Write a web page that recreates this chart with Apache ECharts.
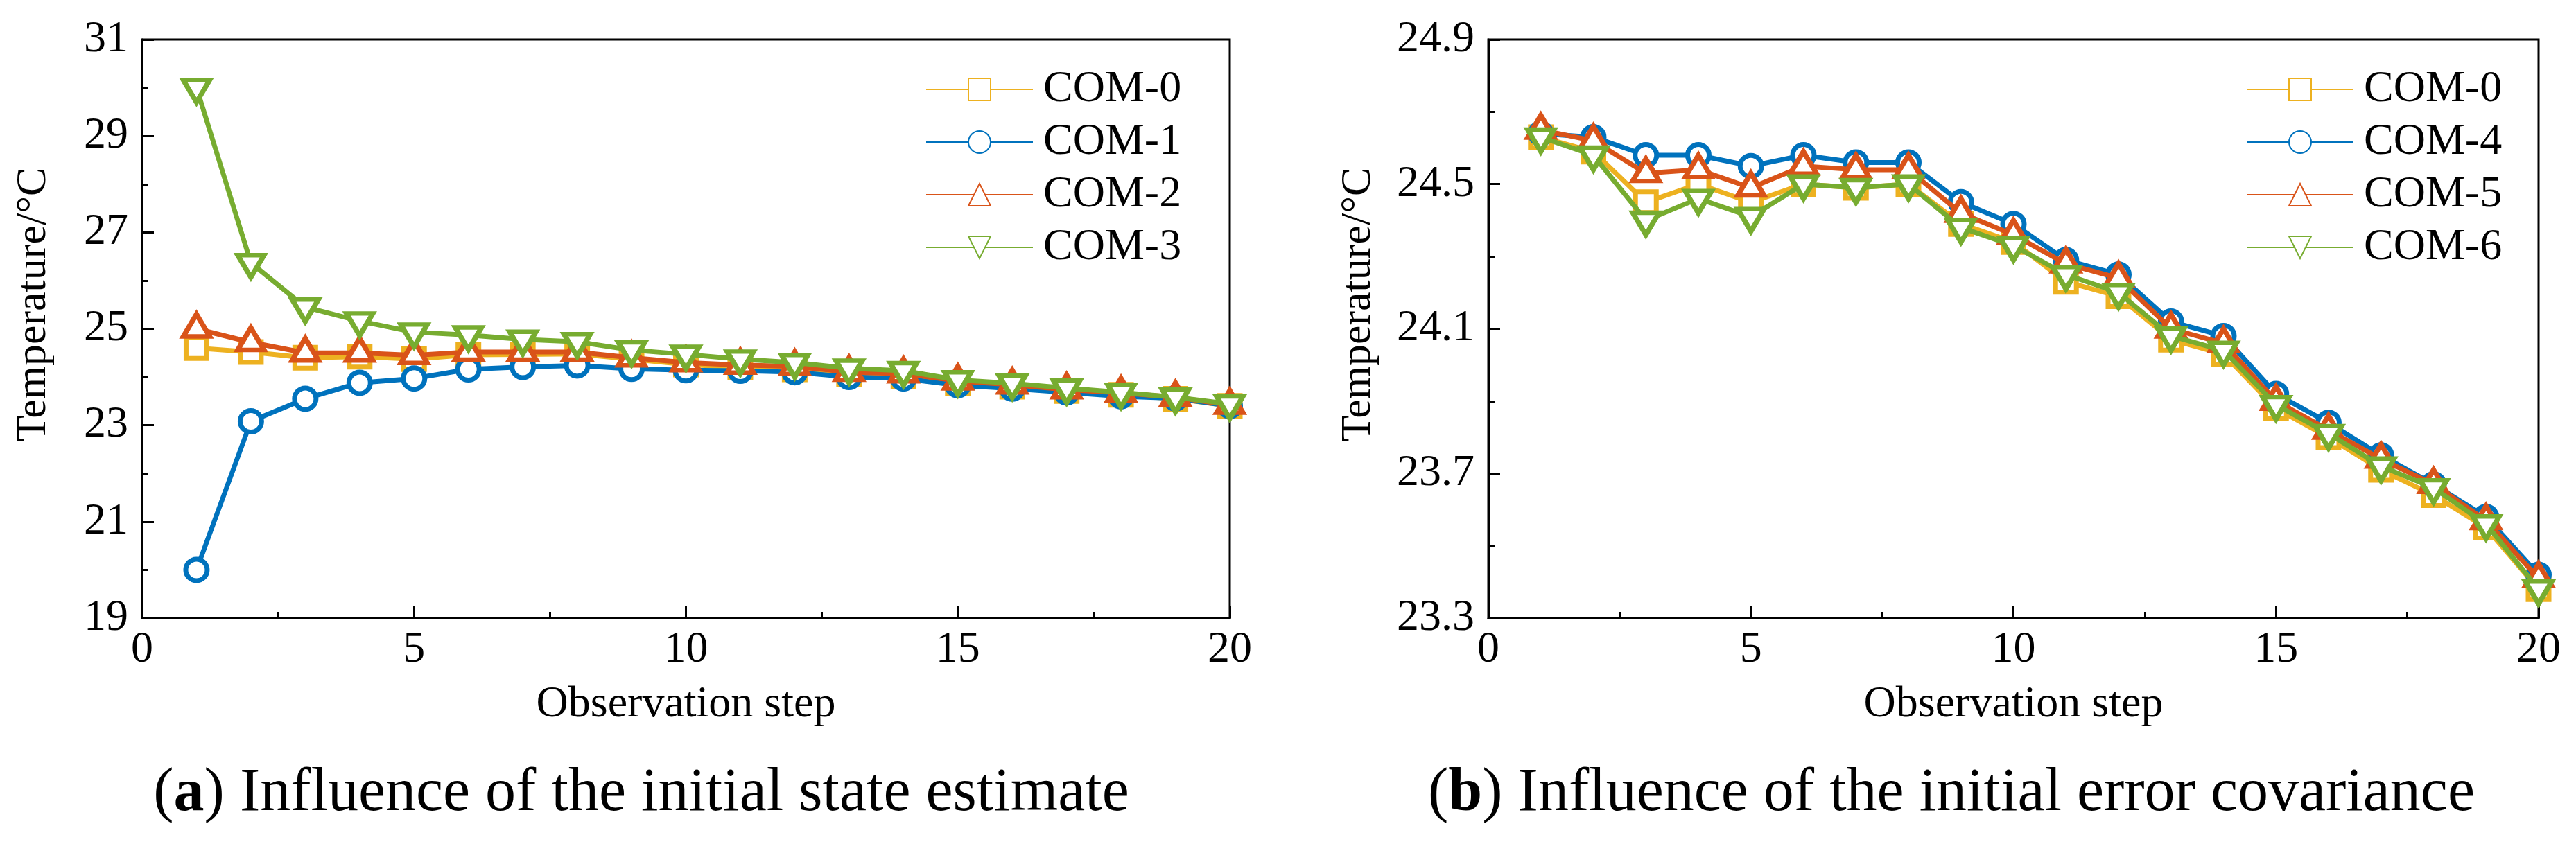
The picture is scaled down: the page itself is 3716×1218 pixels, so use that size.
<!DOCTYPE html>
<html>
<head>
<meta charset="utf-8">
<script src="https://cdn.jsdelivr.net/npm/echarts@6/dist/echarts.min.js"></script>
<style>
html,body{margin:0;padding:0;background:#fff;}
#chart{width:3716px;height:1218px;}
</style>
</head>
<body>
<div id="chart"></div>
<script>
// ---------- data ----------
const steps = [1,2,3,4,5,6,7,8,9,10,11,12,13,14,15,16,17,18,19,20];

// (a) influence of the initial state estimate
const namesA = ['COM-0','COM-1','COM-2','COM-3'];
const com0a = [24.60,24.52,24.40,24.42,24.37,24.46,24.47,24.48,24.37,24.26,24.20,24.16,24.05,24.02,23.87,23.80,23.71,23.63,23.55,23.40];
const com1a = [20.00,23.08,23.55,23.88,23.97,24.16,24.21,24.24,24.17,24.14,24.13,24.10,24.00,23.97,23.83,23.76,23.68,23.60,23.56,23.40];
const com2a = [25.00,24.72,24.50,24.50,24.45,24.52,24.52,24.52,24.40,24.30,24.25,24.22,24.10,24.07,23.92,23.84,23.74,23.67,23.58,23.42];
const com3a = [30.00,26.37,25.45,25.16,24.93,24.87,24.78,24.73,24.56,24.47,24.37,24.30,24.18,24.13,23.94,23.87,23.77,23.68,23.58,23.44];

// (b) influence of the initial error covariance
const namesB = ['COM-0','COM-4','COM-5','COM-6'];
const com0b = [24.63,24.59,24.45,24.50,24.45,24.50,24.49,24.50,24.39,24.34,24.23,24.19,24.07,24.03,23.88,23.80,23.71,23.64,23.55,23.38];
const com4b = [24.64,24.63,24.58,24.58,24.55,24.58,24.56,24.56,24.45,24.39,24.29,24.25,24.12,24.08,23.92,23.84,23.75,23.67,23.58,23.42];
const com5b = [24.65,24.62,24.53,24.54,24.49,24.55,24.54,24.54,24.42,24.36,24.28,24.24,24.10,24.06,23.90,23.82,23.74,23.67,23.57,23.41];
const com6b = [24.63,24.58,24.40,24.46,24.41,24.50,24.49,24.50,24.38,24.33,24.25,24.20,24.08,24.04,23.89,23.81,23.72,23.66,23.56,23.38];

// tick labels
const xTicks  = [0,5,10,15,20];
const yTicksA = [19,21,23,25,27,29,31];
const yTicksB = [23.3,23.7,24.1,24.5,24.9];

const captionA = 'Influence of the initial state estimate';
const captionB = 'Influence of the initial error covariance';

// ---------- styling ----------
const FONT = '"Liberation Serif", "Times New Roman", serif';
const colors = ['#EDB120','#0072BD','#D95319','#77AC30'];
const markers = [
  {symbol:'rect', size:30, rotate:0, offset:[0,0]},
  {symbol:'circle', size:31, rotate:0, offset:[0,0]},
  {symbol:'triangle', size:[38,32], rotate:0, offset:[0,-5]},
  {symbol:'triangle', size:[38,32], rotate:180, offset:[0,5]}
];

function pairs(vals){ return steps.map((s,i)=>[s, vals[i]]); }
function step(t){ return Math.round((t[1]-t[0])*1000)/1000; }

function makeSeries(name, vals, k, gi){
  const m = markers[k];
  return {
    name: name, type:'line', xAxisIndex: gi, yAxisIndex: gi,
    data: pairs(vals),
    symbol: m.symbol, symbolSize: m.size, symbolRotate: m.rotate, symbolOffset: m.offset,
    showAllSymbol: true,
    lineStyle: {color: colors[k], width: 7},
    itemStyle: {color: '#fff', borderColor: colors[k], borderWidth: 7, borderJoin: 'miter'},
    emphasis: {disabled: true},
    z: 2 + k
  };
}

const txt = (size, extra) => Object.assign({fontFamily: FONT, fontSize: size, fontWeight:'normal', fontStyle:'normal', color:'#000'}, extra || {});

function xAxis(gi){
  return {
    gridIndex: gi, type:'value', min: xTicks[0], max: xTicks[xTicks.length-1], interval: step(xTicks),
    name: 'Observation step', nameLocation:'middle', nameGap: 93,
    nameTextStyle: txt(64),
    axisLine: {show:true, onZero:false, lineStyle:{color:'#000', width:3}},
    axisTick: {show:true, inside:true, length:17, lineStyle:{color:'#000', width:3}},
    minorTick: {show:true, splitNumber:2, length:9, lineStyle:{color:'#000', width:3}},
    splitLine: {show:false},
    axisLabel: txt(64, {margin: 14})
  };
}

function yAxis(gi, ticks, gap, dec){
  return {
    gridIndex: gi, type:'value', min: ticks[0], max: ticks[ticks.length-1], interval: step(ticks),
    name: 'Temperature/°C', nameLocation:'middle', nameGap: gap, nameRotate: 90,
    nameTextStyle: txt(62, {padding:[0,0,0,70]}),
    axisLine: {show:true, onZero:false, lineStyle:{color:'#000', width:3}},
    axisTick: {show:true, inside:true, length:17, lineStyle:{color:'#000', width:3}},
    minorTick: {show:true, splitNumber:2, length:9, lineStyle:{color:'#000', width:3}},
    splitLine: {show:false},
    axisLabel: txt(64, {margin: 20, formatter: v => Number(v).toFixed(dec)})
  };
}

function legend(names, left){
  return {
    data: names, orient:'vertical', left: left, top: 97, padding: 0,
    itemWidth: 154, itemHeight: 40, itemGap: 12,
    selectedMode: false,
    textStyle: txt(64, {lineHeight: 64, padding:[0,0,0,10]})
  };
}

const chart = echarts.init(document.getElementById('chart'), null, {renderer:'canvas'});
chart.setOption({
  backgroundColor:'#fff',
  animation:false,
  textStyle: {fontFamily: FONT},
  grid: [
    {left:205, top:57, width:1569, height:835, show:true, borderColor:'#000', borderWidth:3, containLabel:false},
    {left:2147, top:57, width:1515, height:835, show:true, borderColor:'#000', borderWidth:3, containLabel:false}
  ],
  xAxis: [xAxis(0), xAxis(1)],
  yAxis: [yAxis(0, yTicksA, 125, 0), yAxis(1, yTicksB, 156, 1)],
  legend: [legend(namesA, 1335), legend(namesB, 3240)],
  series: [
    makeSeries(namesA[0], com0a, 0, 0),
    makeSeries(namesA[1], com1a, 1, 0),
    makeSeries(namesA[2], com2a, 2, 0),
    makeSeries(namesA[3], com3a, 3, 0),
    makeSeries(namesB[0], com0b, 0, 1),
    makeSeries(namesB[1], com4b, 1, 1),
    makeSeries(namesB[2], com5b, 2, 1),
    makeSeries(namesB[3], com6b, 3, 1)
  ],
  graphic: [
    {type:'text', x: 925, y: 1146, style:{
      text: '({b|a}) ' + captionA, fill:'#000', fontFamily: FONT, fontSize: 88,
      align:'center', verticalAlign:'middle',
      rich:{b:{fontWeight:'bold', fontFamily: FONT, fontSize: 88, fill:'#000'}}
    }},
    {type:'text', x: 2815, y: 1146, style:{
      text: '({b|b}) ' + captionB, fill:'#000', fontFamily: FONT, fontSize: 88,
      align:'center', verticalAlign:'middle',
      rich:{b:{fontWeight:'bold', fontFamily: FONT, fontSize: 88, fill:'#000'}}
    }}
  ]
});
</script>
</body>
</html>
